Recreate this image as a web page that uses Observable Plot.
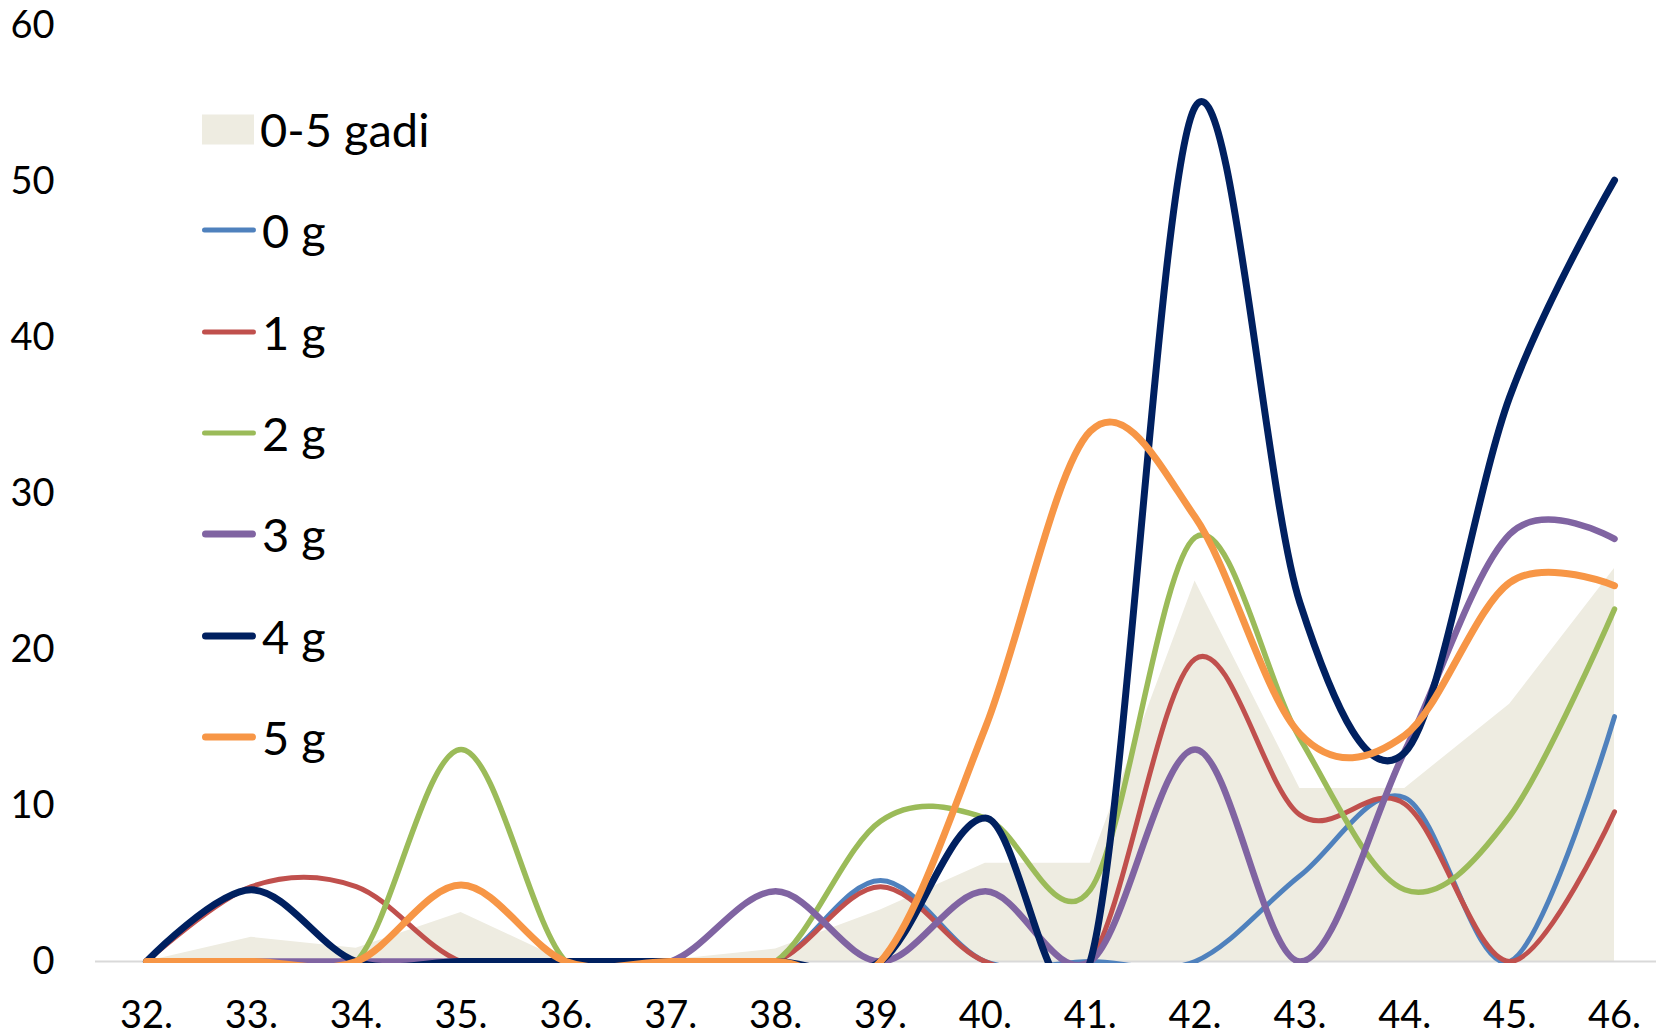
<!DOCTYPE html>
<html>
<head>
<meta charset="utf-8">
<script src="https://cdn.jsdelivr.net/npm/d3@7"></script>
<script src="https://cdn.jsdelivr.net/npm/@observablehq/plot@0.6"></script>
<style>
  html, body { margin: 0; padding: 0; background: #fff; }
  #wrap { position: relative; width: 1656px; height: 1032px; font-family: Lato, "Open Sans", sans-serif; }
  #legend { position: absolute; left: 0; top: 0; }
  .item { position: absolute; left: 202px; display: flex; align-items: center; transform: translateY(-50%); }
  .item span { font-size: 47px; line-height: 1; color: #000; margin-left: 6px; white-space: nowrap; }
  .sw-area { width: 52px; height: 30px; }
  .sw-line { width: 54px; border-radius: 4px; }
</style>
</head>
<body>
<div id="wrap"><div id="legend"></div></div>
<script>
// categories (weeks)
const weeks = [32, 33, 34, 35, 36, 37, 38, 39, 40, 41, 42, 43, 44, 45, 46];
// "0-5 gadi" area series
const gadi05 = [0, 1.55, 0.85, 3.15, 0, 0.1, 0.8, 3.3, 6.3, 6.3, 24.4, 11.1, 11.1, 16.5, 25.2];
// line series
const g0 = [0, 0, 0, 0, 0, 0, 0, 5.2, 0, 0, 0, 5.5, 10.5, 0, 15.7];
const g1 = [0, 4.8, 4.8, 0, 0, 0, 0, 4.8, 0, 0, 19.4, 9.4, 10.1, 0, 9.6];
const g2 = [0, 0, 0, 13.6, 0, 0, 0, 9, 9.2, 4.6, 27.2, 14.3, 4.6, 9.3, 22.6];
const g3 = [0, 0, 0, 0, 0, 0, 4.5, 0, 4.5, 0, 13.6, 0, 13.5, 27.4, 27.1];
const g4 = [0, 4.6, 0, 0, 0, 0, 0, 0, 9.2, 0, 54.8, 23, 13.4, 36.2, 50.1];
const g5 = [0, 0, 0, 4.9, 0, 0, 0, 0, 15, 34, 28.5, 14.6, 14.5, 24.3, 24.1];
// labels
const seriesNames = ["0 g", "1 g", "2 g", "3 g", "4 g", "5 g"];
const areaName = "0-5 gadi";
const yTicks = [0, 10, 20, 30, 40, 50, 60];

const seriesValues = [g0, g1, g2, g3, g4, g5];
const colors = ["#4F81BD", "#C0504D", "#9BBB59", "#8064A2", "#002060", "#F79646"];
const widths = [5, 5, 5.5, 6.5, 7, 7];

const areaRows = weeks.map((w, i) => ({week: w, value: gadi05[i]}));
const lineMarks = seriesValues.map((vals, s) =>
  Plot.line(weeks.map((w, i) => ({week: w, value: vals[i]})), {
    x: "week", y: "value", stroke: colors[s], strokeWidth: widths[s],
    curve: "cardinal", clip: true, strokeLinecap: "round", strokeLinejoin: "round"
  })
);

const chart = Plot.plot({
  width: 1656,
  height: 1032,
  marginLeft: 95,
  marginRight: 0,
  marginTop: 25,
  marginBottom: 69,
  style: {fontFamily: "Lato, 'Open Sans', sans-serif", fontSize: "38px", color: "#000", background: "#fff", overflow: "visible"},
  x: {domain: [32, 46], range: [146, 1614], ticks: weeks, tickFormat: d => d + ".", tickSize: 0, tickPadding: 38, label: null},
  y: {domain: [0, 60], range: [961, 25.4], ticks: yTicks, tickSize: 0, tickPadding: 41, label: null},
  marks: [
    Plot.areaY(areaRows, {x: "week", y: "value", fill: "#EEECE1"}),
    Plot.ruleY([0], {stroke: "#D9D9D9", strokeWidth: 2}),
    ...lineMarks
  ]
});
document.getElementById("wrap").prepend(chart);

// legend
const legend = document.getElementById("legend");
const items = [{label: areaName, type: "area", color: "#EEECE1"}]
  .concat(seriesNames.map((n, s) => ({label: n, type: "line", color: colors[s], w: widths[s]})));
items.forEach((it, i) => {
  const d = document.createElement("div");
  d.className = "item";
  d.style.top = (129 + i * 101.3) + "px";
  const sw = document.createElement("div");
  if (it.type === "area") { sw.className = "sw-area"; }
  else { sw.className = "sw-line"; sw.style.height = it.w + "px"; }
  sw.style.background = it.color;
  const t = document.createElement("span");
  t.textContent = it.label;
  d.appendChild(sw); d.appendChild(t);
  legend.appendChild(d);
});
</script>
</body>
</html>
